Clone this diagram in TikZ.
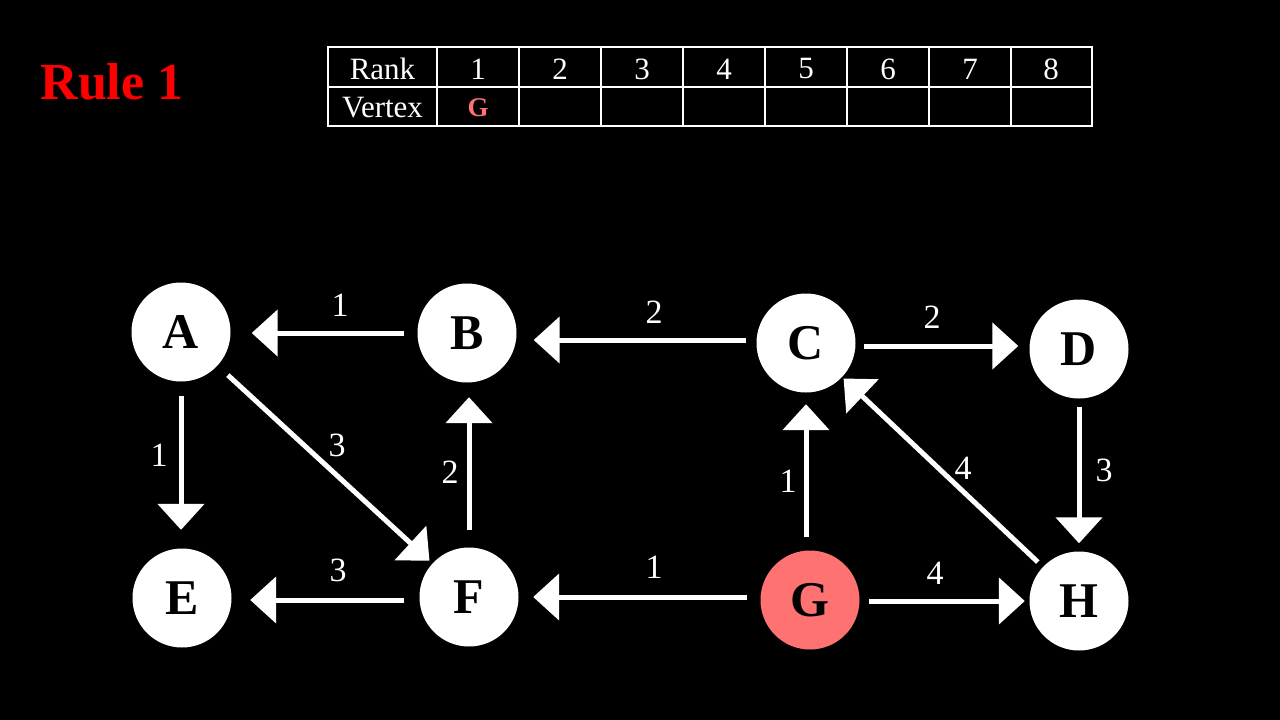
\documentclass[tikz,border=0pt]{standalone}
\usepackage{fontspec}
\setmainfont{Liberation Serif}
\usetikzlibrary{arrows.meta}
\definecolor{salmon}{HTML}{FF7272}
\begin{document}
\begin{tikzpicture}[x=1pt,y=-1pt,
  vtx/.style={circle,fill=white,minimum size=99pt,inner sep=0pt,text=black,font=\fontsize{50}{50}\selectfont\bfseries},
  edge/.style={white,line width=5pt,-{Triangle[width=46pt,length=26pt]}},
  wlab/.style={white,font=\fontsize{34}{34}\selectfont},
  cell/.style={white,font=\fontsize{31}{31}\selectfont},
  grid/.style={white,line width=1.2pt}]
\fill[black] (0,0) rectangle (1280,720);
\useasboundingbox (0,0) rectangle (1280,720);
% title
\node[anchor=west,text=red,font=\fontsize{52}{52}\selectfont\bfseries] (title) at (37,82) {Rule 1};
% table
\draw[grid] (328,47) rectangle (1092,126);
\draw[grid] (328,87) -- (1092,87);
\foreach \x in {437,519,601,683,765,847,929,1011} \draw[grid] (\x,47) -- (\x,126);
\node[cell] (rank) at (382.5,69) {Rank};
\node[cell] (vertex) at (382.5,108) {Vertex};
\foreach \i/\x in {1/478,2/560,3/642,4/724,5/806,6/888,7/970,8/1051}
  \node[cell] (r\i) at (\x,69) {\i};
\node[text=salmon,font=\fontsize{27}{27}\selectfont\bfseries] (tg) at (478,108) {G};
% vertices
\node[vtx] (A) at (181,332) {A};
\node[vtx] (B) at (467,333) {B};
\node[vtx] (C) at (806,343) {C};
\node[vtx] (D) at (1079,349) {D};
\node[vtx] (E) at (182,598) {E};
\node[vtx] (F) at (469,597) {F};
\node[vtx,fill=salmon] (G) at (810,600) {G};
\node[vtx] (H) at (1079,601) {H};
% end points
\coordinate (ba) at ([xshift=-13pt]B.west);
\coordinate (cb) at ([xshift=-10pt,yshift=3pt]C.west);
\coordinate (cd) at ([xshift=8pt,yshift=-3pt]C.east);
\coordinate (fe) at ([xshift=-15.5pt,yshift=-3pt]F.west);
\coordinate (gf) at ([xshift=-13.5pt,yshift=3pt]G.west);
\coordinate (gh) at ([xshift=9.5pt,yshift=-1pt]G.east);
\coordinate (ae) at ([yshift=-14.5pt]A.south);
\coordinate (fb) at ([yshift=17.5pt]F.north);
\coordinate (gc) at ([yshift=13pt]C.south |- G.north);
\coordinate (dh) at ([yshift=-8pt]D.south);
% edges
\draw[edge] (ba) -- ([xshift=21pt]A.east |- ba);
\draw[edge] (cb) -- ([xshift=17pt]B.east |- cb);
\draw[edge] (cd) -- ([xshift=-11pt]D.west |- cd);
\draw[edge] (ae) -- ([yshift=18.5pt]ae |- E.north);
\draw[edge,shorten <=14pt,shorten >=4pt] (A) -- (F);
\draw[edge] (fb) -- ([yshift=-14.5pt]fb |- B.south);
\draw[edge] (gc) -- ([yshift=-11.5pt]C.south);
\draw[edge,shorten <=7pt,shorten >=2pt] (H) -- (C);
\draw[edge] (dh) -- ([yshift=8pt]dh |- H.north);
\draw[edge] (fe) -- ([xshift=18.5pt]E.east |- fe);
\draw[edge] (gf) -- ([xshift=14.5pt]F.east |- gf);
\draw[edge] (gh) -- ([xshift=-4.5pt]H.west |- gh);
% weights
\node[wlab] (wBA) at (340,305) {1};
\node[wlab] (wCB) at (654,312) {2};
\node[wlab] (wCD) at (932,317) {2};
\node[wlab] (wAE) at (159,455) {1};
\node[wlab] (wAF) at (337,445) {3};
\node[wlab] (wFB) at (450,472) {2};
\node[wlab] (wGC) at (788,481) {1};
\node[wlab] (wHC) at (963,468) {4};
\node[wlab] (wDH) at (1104,470) {3};
\node[wlab] (wFE) at (338,570) {3};
\node[wlab] (wGF) at (654,567) {1};
\node[wlab] (wGH) at (935,573) {4};
\end{tikzpicture}
\end{document}
